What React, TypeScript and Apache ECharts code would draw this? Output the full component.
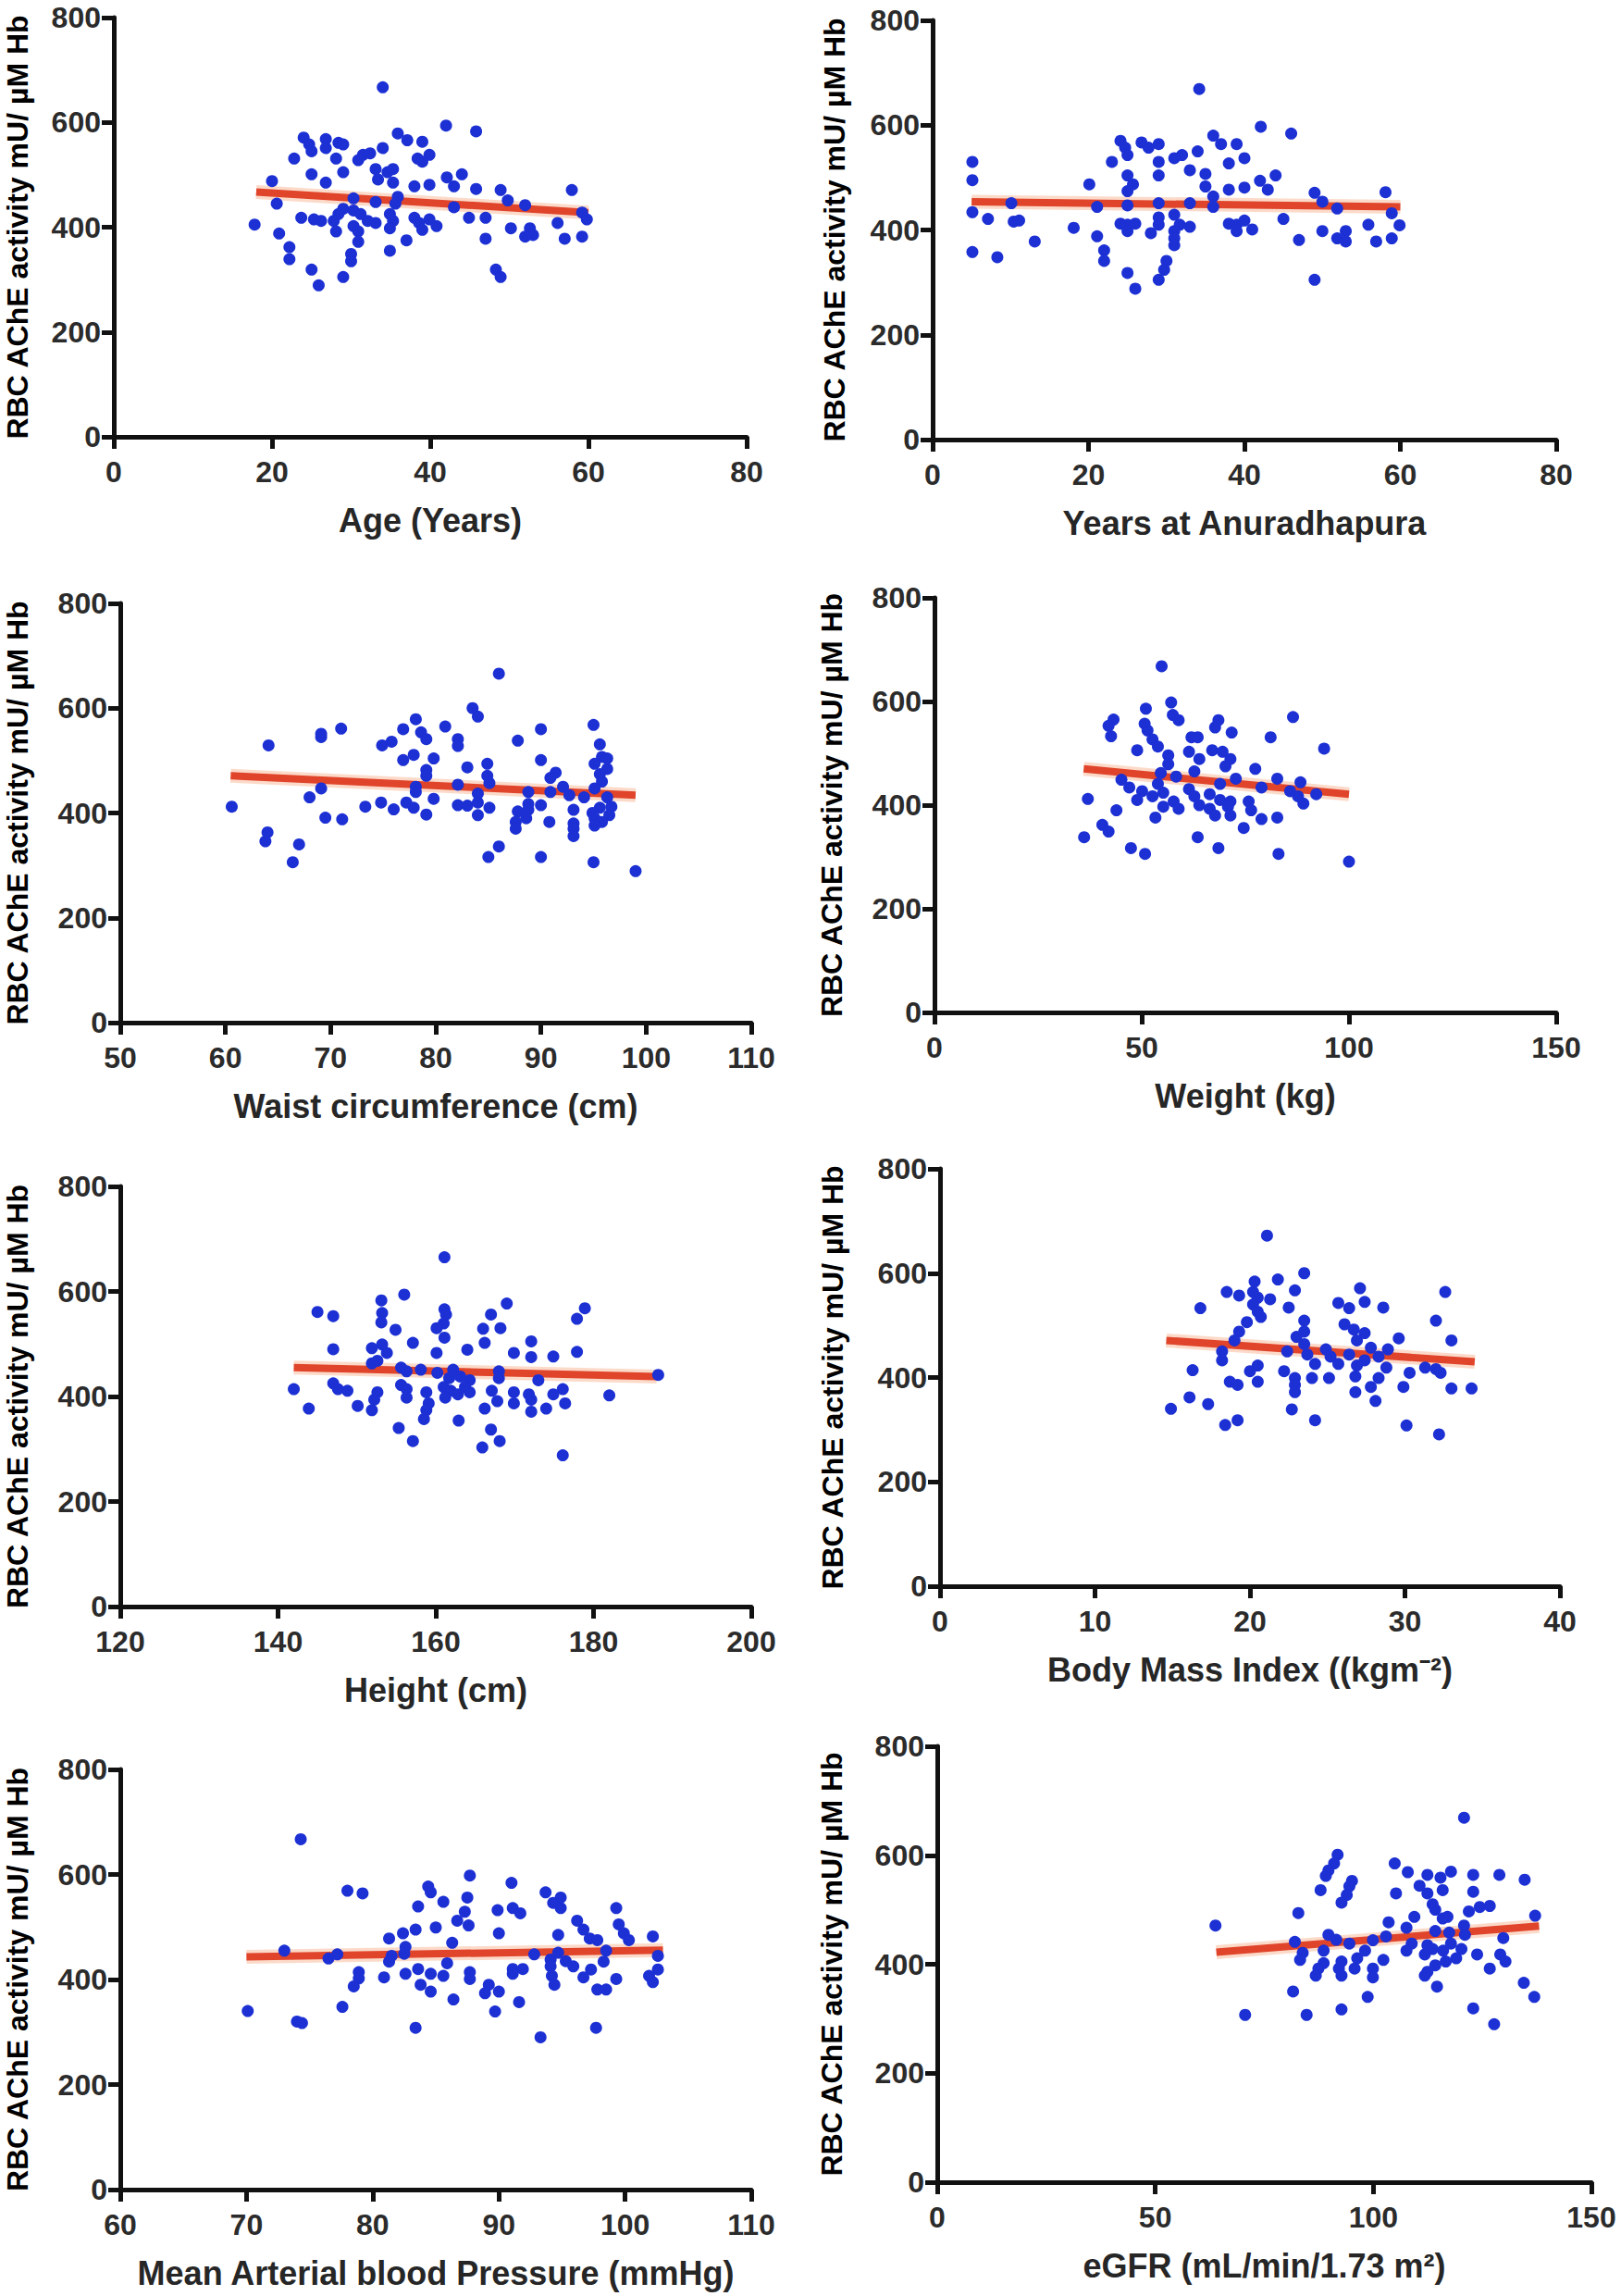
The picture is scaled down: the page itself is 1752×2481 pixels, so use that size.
import React, { useEffect, useRef } from "react";
import * as echarts from "echarts";

const yAxisTitle = "RBC AChE activity mU/ µM Hb";
const yRange = [0, 800, 200];

const agePoints = [[34.0,667],[42.0,594],[45.8,583],[35.9,579],[24.0,571],[26.8,568],[28.4,561],[37.1,566],[39.0,563],[24.7,558],[34.0,551],[26.8,551],[29.0,558],[25.0,545],[31.5,538],[32.4,541],[22.8,531],[28.1,531],[30.9,528],[38.4,531],[39.9,538],[39.0,525],[33.1,511],[34.6,505],[35.3,511],[29.0,505],[25.0,501],[33.4,491],[35.3,485],[26.8,485],[20.0,488],[42.1,495],[44.0,501],[43.0,478],[38.0,478],[39.9,481],[45.8,473],[48.9,471],[57.9,471],[20.6,445],[30.3,455],[33.1,448],[35.9,458],[35.6,445],[49.8,451],[52.0,442],[43.0,438],[29.0,435],[30.3,432],[44.9,418],[59.2,428],[23.7,418],[25.3,415],[26.2,412],[28.4,425],[27.8,412],[31.2,425],[32.1,412],[33.1,408],[34.9,425],[35.3,412],[38.0,418],[38.6,408],[39.9,415],[40.8,402],[39.0,395],[47.0,418],[59.8,415],[56.1,408],[17.8,405],[30.3,402],[34.9,398],[50.2,398],[52.6,398],[20.9,388],[28.1,392],[30.9,392],[52.0,382],[53.0,385],[47.0,378],[57.0,378],[59.2,382],[30.9,372],[37.0,375],[22.2,362],[22.2,339],[30.0,349],[30.0,335],[34.9,355],[25.0,319],[29.0,305],[25.9,289],[48.3,319],[48.9,305]];
const ageFit = [[18,467],[60,428]];

const yearsPoints = [[34.2,669],[42.1,597],[46.0,584],[36.0,580],[24.1,570],[37.0,564],[39.0,564],[26.8,567],[29.0,564],[27.7,557],[24.7,557],[34.0,550],[25.0,543],[32.0,543],[31.0,537],[40.0,537],[23.0,530],[5.1,530],[29.0,530],[38.0,527],[33.0,514],[35.0,507],[29.0,504],[5.1,495],[25.0,504],[44.0,504],[42.0,494],[20.1,487],[25.7,487],[35.0,483],[43.0,477],[38.0,477],[40.0,481],[25.0,474],[49.0,471],[58.1,472],[36.0,464],[50.0,454],[33.0,451],[10.1,451],[21.1,444],[29.0,451],[36.0,444],[51.9,441],[5.1,434],[25.0,447],[31.0,429],[58.9,432],[7.1,421],[10.4,416],[11.1,418],[24.1,412],[25.0,410],[26.0,412],[29.0,424],[29.0,410],[31.7,410],[33.0,406],[38.0,412],[39.0,410],[40.0,418],[41.0,401],[45.0,421],[59.9,409],[18.1,404],[25.0,398],[28.0,394],[31.0,398],[39.0,398],[50.0,398],[53.0,398],[55.9,410],[21.1,388],[31.0,384],[51.9,384],[53.0,378],[56.9,378],[58.9,384],[47.0,381],[13.1,378],[31.0,371],[22.0,361],[22.0,341],[5.1,358],[8.3,348],[30.0,341],[29.7,324],[29.0,305],[25.0,318],[26.0,288],[49.0,305]];
const yearsFit = [[5,454],[60,444]];

const waistPoints = [[86.0,666],[83.5,600],[84.0,584],[78.1,579],[95.0,568],[80.9,565],[71.0,561],[76.9,560],[90.0,560],[78.6,554],[69.1,551],[69.1,545],[79.1,541],[82.1,541],[75.8,536],[74.9,529],[87.8,538],[64.1,529],[82.1,528],[95.6,531],[77.9,511],[95.8,507],[76.9,501],[79.8,504],[90.0,501],[84.9,494],[95.1,494],[96.3,504],[83.0,487],[79.1,482],[96.3,484],[91.4,477],[90.9,467],[84.9,471],[95.6,474],[79.1,471],[69.1,447],[82.1,454],[78.1,450],[92.1,450],[85.1,457],[95.8,460],[95.1,447],[88.8,440],[90.9,440],[92.7,434],[94.1,430],[84.0,437],[78.1,440],[96.3,430],[68.0,430],[79.8,427],[77.2,420],[74.8,420],[73.3,412],[82.1,415],[83.0,414],[84.0,420],[76.0,407],[77.9,410],[79.1,397],[85.1,410],[88.8,417],[90.0,415],[96.7,412],[95.6,410],[94.9,400],[60.6,412],[69.5,391],[71.1,388],[84.0,396],[87.8,403],[88.8,406],[93.1,406],[96.5,396],[87.6,383],[88.6,390],[90.8,383],[95.1,390],[95.8,383],[93.1,380],[87.6,370],[95.1,376],[93.1,370],[64.0,363],[63.8,346],[93.1,356],[86.0,336],[67.0,340],[66.4,306],[85.0,316],[90.0,316],[95.0,306],[99.0,289]];
const waistFit = [[60.5,471],[99,434]];

const weightPoints = [[54.8,668],[57.1,598],[51.0,586],[57.5,574],[86.5,570],[43.2,565],[58.9,564],[68.5,564],[42.0,553],[50.7,557],[67.7,550],[71.7,540],[42.6,533],[51.4,544],[52.6,527],[62.0,531],[63.5,531],[81.1,531],[53.9,513],[48.9,506],[94.0,509],[61.4,503],[67.0,506],[69.5,503],[56.4,496],[63.9,489],[71.4,489],[70.2,475],[77.4,470],[56.4,479],[54.6,462],[62.7,465],[82.7,451],[58.3,455],[45.1,449],[72.7,451],[88.3,444],[68.9,441],[53.9,441],[78.9,434],[47.0,434],[61.4,431],[50.1,427],[55.2,424],[85.8,427],[87.7,417],[92.1,421],[62.7,417],[66.4,421],[37.0,412],[48.9,410],[52.6,417],[57.7,407],[68.9,410],[71.4,407],[75.8,407],[89.0,403],[63.9,400],[66.4,393],[70.8,397],[55.2,397],[58.9,393],[43.9,390],[76.4,390],[53.3,376],[67.7,380],[71.4,380],[78.9,373],[82.7,376],[40.5,362],[42.0,349],[74.6,356],[36.1,338],[63.5,338],[47.4,317],[68.5,317],[50.8,306],[83.0,306],[100.0,291]];
const weightFit = [[36,470],[100,421]];

const heightPoints = [[161.1,665],[156.0,594],[153.1,583],[169.0,577],[178.9,568],[161.1,566],[145.0,561],[153.2,559],[161.3,556],[147.0,553],[167.0,556],[177.9,548],[153.1,541],[161.0,539],[160.1,530],[168.2,530],[154.9,527],[166.0,529],[161.1,512],[172.1,505],[157.1,502],[166.2,502],[153.2,499],[151.9,492],[147.0,490],[164.0,489],[160.1,483],[169.9,483],[177.9,485],[153.8,483],[174.9,476],[172.1,475],[152.6,468],[151.9,463],[155.6,455],[158.1,451],[162.2,451],[168.0,448],[156.3,448],[160.2,445],[161.7,435],[173.0,431],[163.1,438],[164.3,431],[188.2,441],[168.0,435],[155.6,422],[147.0,425],[142.0,414],[147.6,414],[148.8,411],[152.6,408],[156.3,414],[158.8,408],[161.0,418],[161.9,411],[162.8,404],[163.7,418],[164.3,408],[167.1,411],[169.9,408],[171.8,404],[176.1,414],[174.9,404],[182.0,402],[156.3,398],[152.2,394],[161.2,398],[169.9,387],[172.1,394],[167.8,391],[176.4,387],[150.1,382],[159.1,387],[143.9,377],[151.9,374],[166.2,377],[172.1,371],[174.0,377],[158.8,374],[158.5,357],[162.9,354],[155.3,340],[167.0,337],[157.1,315],[168.1,315],[165.9,303],[176.1,288]];
const heightFit = [[142,455],[188,438]];

const bmiPoints = [[21.1,672],[23.5,600],[21.8,588],[20.3,584],[27.1,571],[22.9,567],[18.5,564],[32.6,564],[20.2,564],[19.3,557],[20.5,553],[21.3,550],[25.7,543],[27.4,545],[20.2,540],[22.5,534],[26.4,533],[28.6,534],[16.8,533],[20.5,526],[20.7,516],[23.5,509],[32.0,509],[19.8,506],[26.1,502],[26.7,492],[27.4,485],[23.5,488],[19.3,488],[23.0,478],[33.0,471],[29.6,475],[19.0,471],[26.9,471],[27.8,457],[28.9,454],[23.5,464],[22.4,450],[18.2,450],[24.9,454],[25.2,440],[26.4,444],[23.7,444],[18.2,433],[28.3,440],[27.4,433],[25.7,426],[26.9,423],[31.3,419],[32.0,416],[20.5,423],[24.2,426],[28.8,419],[16.3,414],[20.0,412],[22.2,412],[30.3,409],[32.3,409],[22.9,399],[24.0,399],[25.1,399],[26.8,402],[28.3,399],[20.5,392],[18.7,392],[19.2,386],[22.9,386],[29.9,382],[27.8,382],[33.0,379],[34.3,379],[22.9,372],[26.8,372],[16.1,362],[28.1,355],[17.3,349],[14.9,340],[22.7,339],[24.2,318],[19.2,318],[18.4,309],[30.1,308],[32.2,291]];
const bmiFit = [[14.6,471],[34.5,430]];

const mapPoints = [[74.3,667],[87.7,598],[91.0,584],[84.4,577],[78.0,569],[79.2,564],[93.7,566],[84.6,566],[87.5,556],[94.9,556],[85.6,548],[94.3,546],[83.6,539],[89.9,532],[91.1,536],[91.7,526],[99.3,536],[87.3,529],[94.9,536],[86.7,512],[87.6,503],[96.2,512],[99.5,505],[85.0,499],[83.4,495],[82.4,488],[90.0,488],[94.7,485],[99.9,488],[96.7,495],[81.3,478],[102.2,482],[97.2,478],[97.8,475],[86.3,470],[100.3,475],[82.6,462],[73.0,455],[77.2,448],[82.5,449],[92.8,448],[94.7,451],[98.5,455],[102.6,445],[76.5,440],[81.5,445],[94.1,438],[95.3,435],[81.3,434],[85.9,431],[98.3,434],[83.6,420],[91.1,420],[91.9,420],[94.1,425],[95.9,425],[97.3,419],[102.6,419],[78.9,414],[82.6,411],[84.6,411],[85.6,407],[87.7,414],[91.1,411],[94.2,407],[96.7,404],[101.9,407],[80.9,404],[78.9,402],[87.7,401],[94.4,390],[99.3,401],[83.8,390],[89.2,390],[102.2,395],[78.5,387],[97.8,381],[98.5,381],[84.6,377],[88.9,374],[90.0,377],[86.4,362],[91.6,357],[77.6,348],[70.1,340],[89.7,339],[74.0,320],[74.4,317],[83.4,308],[97.7,308],[93.3,290]];
const mapFit = [[70,443],[103,456]];

const egfrPoints = [[120.8,669],[91.8,601],[91.0,585],[104.9,585],[89.7,572],[107.9,569],[89.1,562],[117.8,570],[122.9,564],[128.9,564],[134.7,555],[112.4,564],[95.1,553],[94.5,543],[115.4,559],[110.6,544],[87.9,536],[105.2,530],[115.9,536],[122.9,533],[112.4,530],[93.9,527],[92.7,513],[113.6,510],[124.4,505],[126.7,507],[121.9,497],[114.2,500],[82.8,494],[109.4,487],[117.0,487],[137.1,489],[115.9,484],[103.5,477],[63.8,471],[107.6,467],[120.8,471],[114.2,461],[117.4,458],[121.0,454],[89.7,454],[99.9,444],[102.9,451],[129.8,448],[82.0,441],[91.5,445],[94.5,438],[108.8,438],[112.4,435],[117.8,438],[116.0,425],[113.6,428],[120.2,428],[107.6,425],[83.8,421],[88.6,425],[98.1,425],[123.8,418],[111.8,418],[129.1,418],[102.3,408],[83.2,408],[88.6,402],[92.7,405],[96.3,411],[116.6,405],[119.0,411],[130.3,405],[114.2,398],[87.4,392],[92.1,392],[95.7,392],[99.9,392],[126.7,392],[112.4,386],[86.8,379],[92.7,379],[99.9,376],[111.8,379],[134.5,366],[114.6,359],[81.6,350],[136.9,340],[98.7,340],[92.7,317],[122.9,319],[70.6,307],[84.7,307],[127.7,290]];
const egfrFit = [[64,422],[138,470]];

const panels = [
  { xTitle: "Age (Years)", points: agePoints, fit: ageFit, xMin: 0, xMax: 80, xStep: 20, box: [123, 19, 807, 472], yGap: 88 },
  { xTitle: "Years at Anuradhapura", points: yearsPoints, fit: yearsFit, xMin: 0, xMax: 80, xStep: 20, box: [1008, 22, 1682, 475], yGap: 90 },
  { xTitle: "Waist circumference (cm)", points: waistPoints, fit: waistFit, xMin: 50, xMax: 110, xStep: 10, box: [130, 652, 812, 1105], yGap: 95 },
  { xTitle: "Weight (kg)", points: weightPoints, fit: weightFit, xMin: 0, xMax: 150, xStep: 50, box: [1010, 646, 1682, 1094], yGap: 95 },
  { xTitle: "Height (cm)", points: heightPoints, fit: heightFit, xMin: 120, xMax: 200, xStep: 20, box: [130, 1282, 812, 1736], yGap: 95 },
  { xTitle: "Body Mass Index ((kgm⁻²)", points: bmiPoints, fit: bmiFit, xMin: 0, xMax: 40, xStep: 10, box: [1016, 1263, 1686, 1714], yGap: 100 },
  { xTitle: "Mean Arterial blood Pressure (mmHg)", points: mapPoints, fit: mapFit, xMin: 60, xMax: 110, xStep: 10, box: [130, 1912, 812, 2366], yGap: 95 },
  { xTitle: "eGFR (mL/min/1.73 m²)", points: egfrPoints, fit: egfrFit, xMin: 0, xMax: 150, xStep: 50, box: [1013, 1887, 1720, 2358], yGap: 98 },
];

const tickFont = "'Liberation Sans Narrow', 'Liberation Sans', Arial, sans-serif";
const titleFont = "'Liberation Sans', Arial, sans-serif";

export default function App() {
  const ref = useRef<HTMLDivElement>(null);
  useEffect(() => {
    if (!ref.current) return;
    const chart = echarts.init(ref.current, null, { renderer: "svg" });
    const axisLine = { show: true, onZero: false, lineStyle: { color: "#111", width: 5 } };
    const axisTick = { show: true, length: 13, lineStyle: { color: "#111", width: 5 } };
    const option: any = {
      animation: false,
      backgroundColor: "#ffffff",
      grid: panels.map((p) => ({
        left: p.box[0],
        top: p.box[1],
        width: p.box[2] - p.box[0],
        height: p.box[3] - p.box[1],
        containLabel: false,
      })),
      xAxis: panels.map((p, i) => ({
        gridIndex: i,
        type: "value",
        min: p.xMin,
        max: p.xMax,
        interval: p.xStep,
        name: p.xTitle,
        nameLocation: "middle",
        nameGap: 72,
        nameTextStyle: { fontSize: 36, fontWeight: "bold", color: "#262626", fontFamily: titleFont },
        axisLine,
        axisTick,
        axisLabel: { fontSize: 32, color: "#2b2b2b", margin: 22, fontFamily: tickFont, fontWeight: "bold" },
        splitLine: { show: false },
      })),
      yAxis: panels.map((p, i) => ({
        gridIndex: i,
        type: "value",
        min: yRange[0],
        max: yRange[1],
        interval: yRange[2],
        name: yAxisTitle,
        nameLocation: "middle",
        nameRotate: 90,
        nameGap: p.yGap,
        nameTextStyle: { fontSize: 32, fontWeight: "bold", color: "#000", fontFamily: titleFont },
        axisLine,
        axisTick,
        axisLabel: { fontSize: 32, color: "#2b2b2b", margin: 14, fontFamily: tickFont, fontWeight: "bold" },
        splitLine: { show: false },
      })),
      series: panels.flatMap((p, i) => [
        {
          type: "line",
          xAxisIndex: i,
          yAxisIndex: i,
          data: p.fit,
          symbol: "none",
          silent: true,
          z: 1,
          lineStyle: { color: "rgba(245,150,100,0.35)", width: 15 },
        },
        {
          type: "line",
          xAxisIndex: i,
          yAxisIndex: i,
          data: p.fit,
          symbol: "none",
          silent: true,
          z: 2,
          lineStyle: { color: "#e0442a", width: 8 },
        },
        {
          type: "scatter",
          xAxisIndex: i,
          yAxisIndex: i,
          data: p.points,
          symbol: "circle",
          symbolSize: 13,
          z: 3,
          itemStyle: { color: "#1c30d4", opacity: 1 },
        },
      ]),
    };
    chart.setOption(option);
    return () => chart.dispose();
  }, []);
  return (
    <div
      ref={ref}
      style={{ position: "absolute", left: 0, top: 0, width: 1752, height: 2481, background: "#fff" }}
    />
  );
}
